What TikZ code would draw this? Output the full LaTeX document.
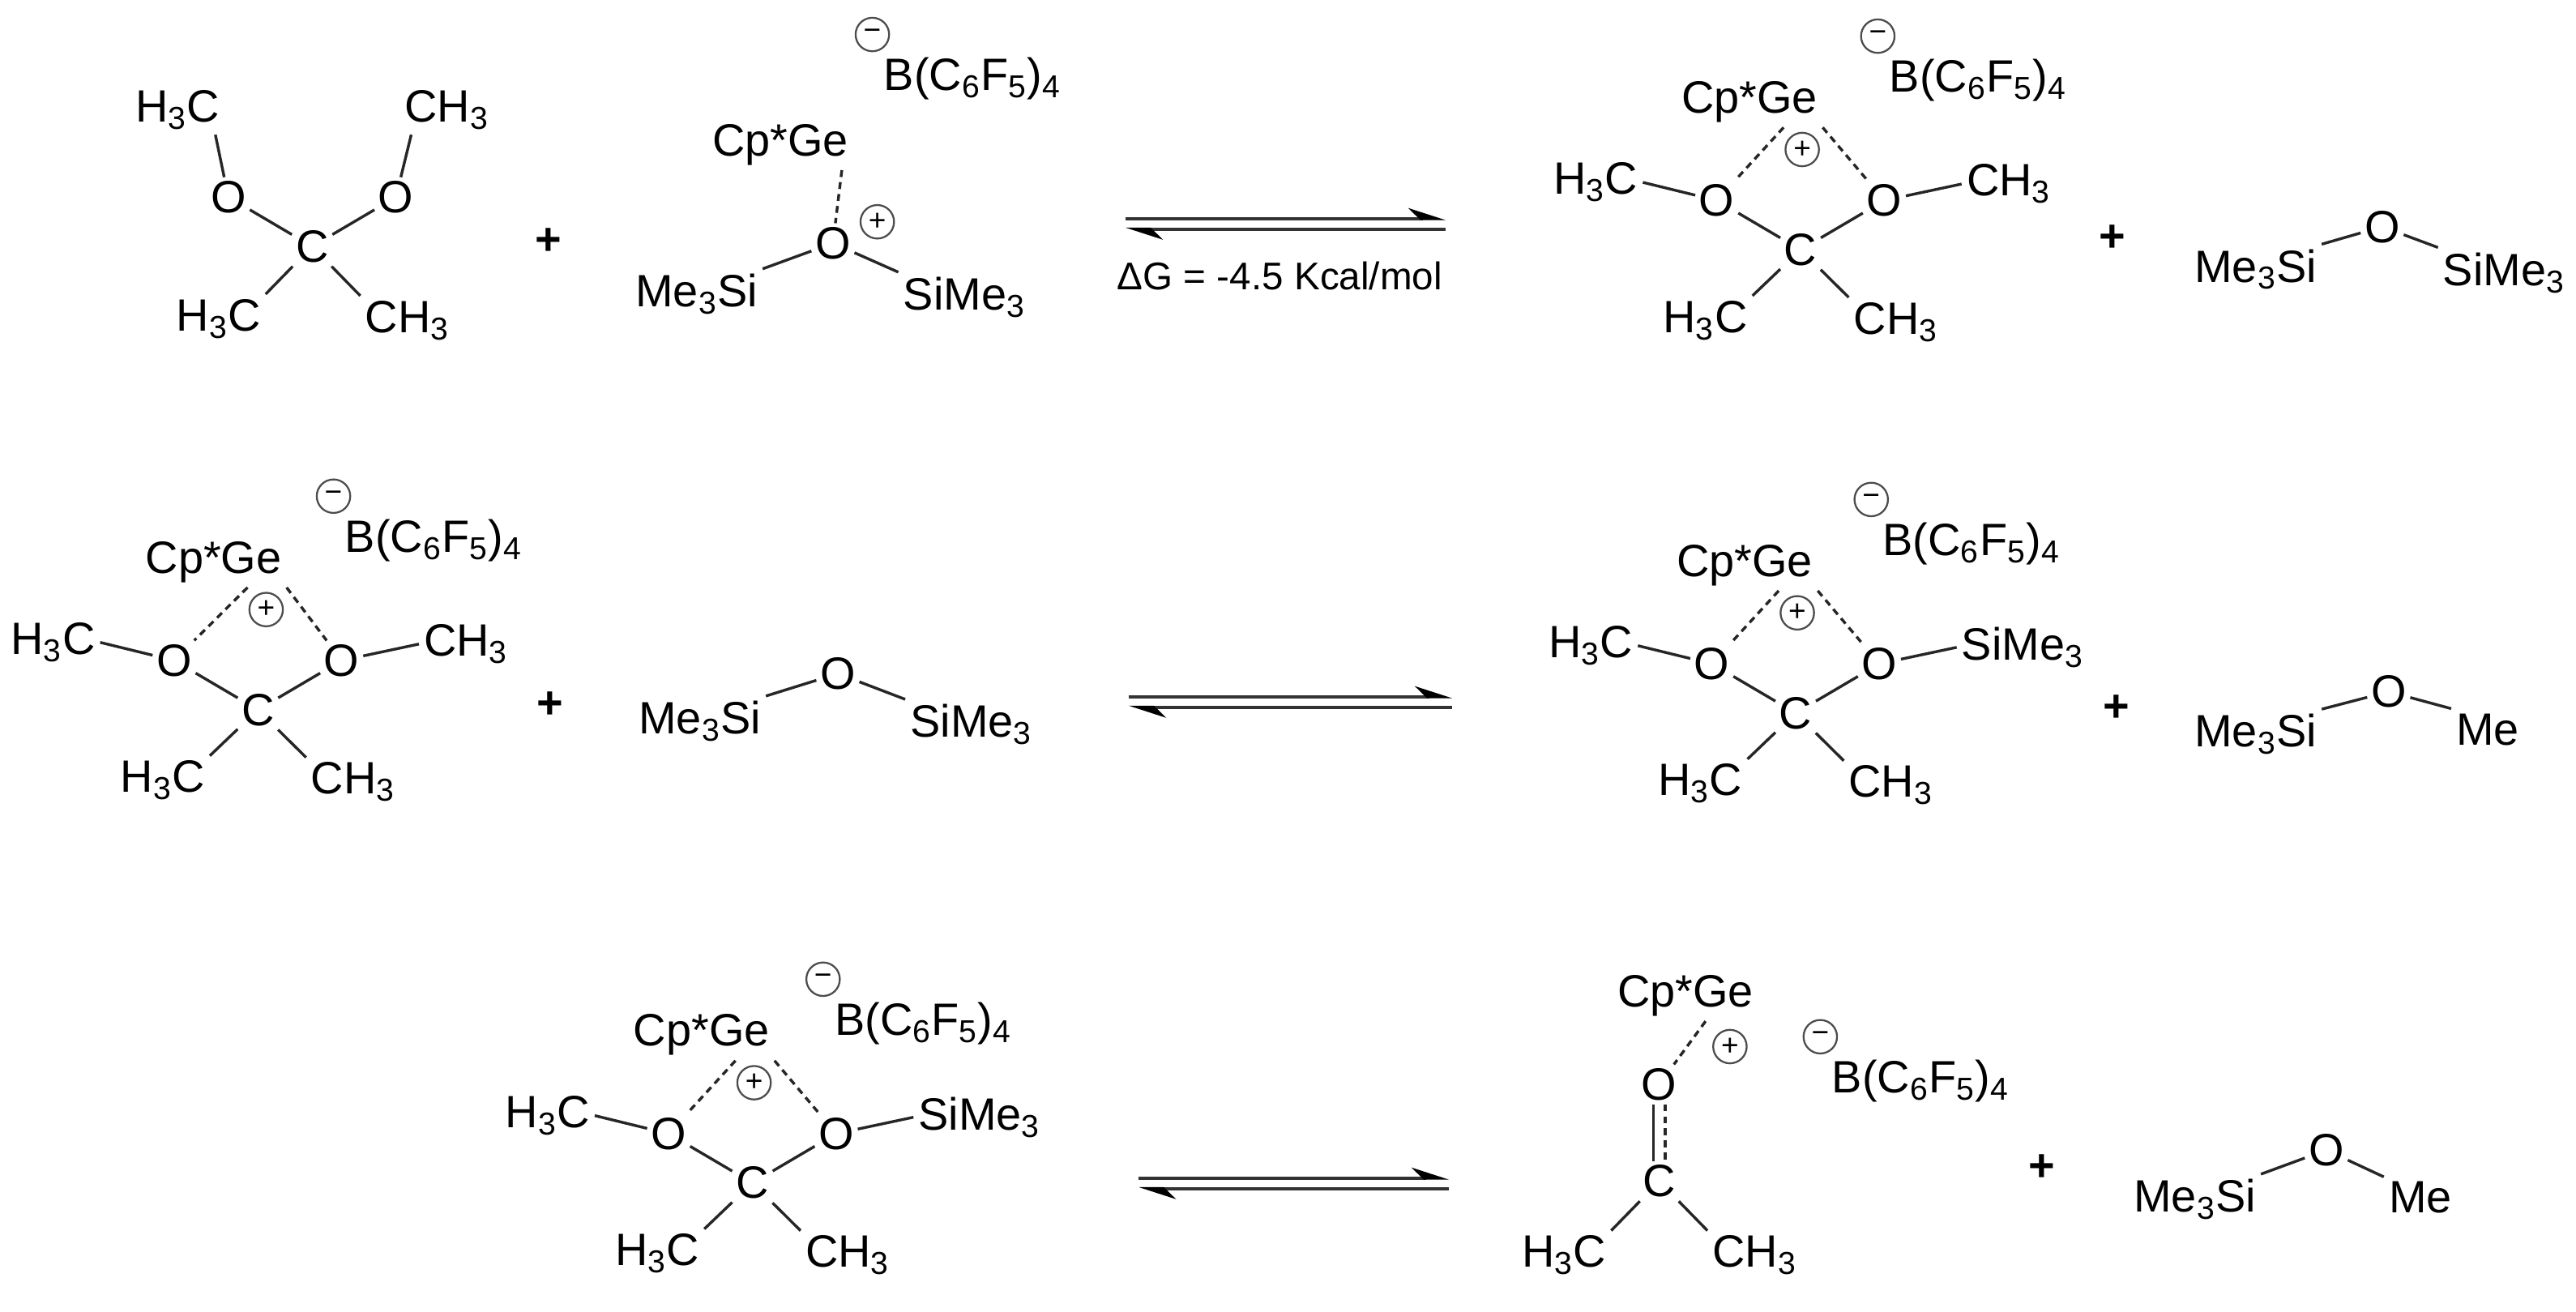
\documentclass[tikz,border=0pt]{standalone}
\usepackage{fontspec}
\setmainfont{Liberation Sans}
\usetikzlibrary{arrows.meta, calc, positioning}
\tikzset{
    atom/.style={inner sep=1.5pt, font=\fontsize{19.6}{23}\selectfont},
    group/.style={inner sep=2pt, font=\fontsize{19.6}{23}\selectfont},
    charge/.style={circle, draw=black!70, line width=0.8pt, inner sep=0pt, minimum size=14.5pt, font=\fontsize{13}{13}\selectfont},
    plusSign/.style={inner sep=0pt, font=\bfseries\fontsize{19.6}{23}\selectfont},
    bond/.style={line width=1.2pt, black!85},
    dashBond/.style={line width=1.2pt, black!85, dash pattern=on 3pt off 2.2pt},
    eqArrow/.style={line width=1.4pt, black!80, -{Stealth[harpoon, length=14pt, width=9pt, black]}},
}
\newcommand{\Hthree}{H\textsubscript{3}C}
\newcommand{\Cthree}{CH\textsubscript{3}}
\newcommand{\MeSi}{Me\textsubscript{3}Si}
\newcommand{\SiMe}{SiMe\textsubscript{3}}
% bridged cation, C at #3,#4
\newcommand{\drawCation}[5][-31]{
    \begin{scope}[shift={(#3,#4)}]
        \node[atom] (#2C) at (0,0) {C};
        \node[atom] (#2Ol) at (-51,-30) {O};
        \node[atom] (#2Or) at (51,-30) {O};
        \node[group] (#2Ge) at (#1,-90) {Cp*Ge};
        \node[charge] (#2Plus) at ($(#2Ge)+(32,29)$) {+};
        \node[group, anchor=east] (#2Ml) at (-96,-41) {\Hthree};
        \node[group, anchor=west] (#2Mr) at (98,-40) {#5};
        \node[group] (#2Dl) at (-58,43) {\Hthree};
        \node[group] (#2Dr) at (58,44) {\Cthree};
        \draw[bond] (#2Ol) -- (#2C);
        \draw[bond] (#2Or) -- (#2C);
        \draw[bond] (#2Ml.east) -- (#2Ol);
        \draw[bond] (#2Mr.west) -- (#2Or);
        \draw[bond] (#2C) -- (#2Dl.north east);
        \draw[bond] (#2C) -- (#2Dr.north west);
        \draw[dashBond] (#2Ge.-37) -- (#2Ol);
        \draw[dashBond] (#2Ge.south east) -- (#2Or);
    \end{scope}
}
% counter ion, B label centred at #2,#3
\newcommand{\drawAnion}[3]{
    \node[group] (#1B) at (#2,#3) {B(C\textsubscript{6}F\textsubscript{5})\textsubscript{4}};
    \node[charge] (#1Minus) at ($(#1B)+(-61,-27)$) {−};
}
% silyl ether: name, O, right label, left position, right position
\newcommand{\drawEther}[5]{
    \node[atom] (#1O) at (#2) {O};
    \node[group] (#1L) at (#4) {\MeSi};
    \node[group, anchor=west] (#1R) at (#5) {#3};
    \draw[bond] (#1O) -- (#1L.north east);
    \draw[bond] (#1O) -- (#1R.north west);
}
\newcommand{\drawEquil}[4]{
    \coordinate (#1a) at (#2,#4);
    \coordinate (#1b) at (#3,#4);
    \coordinate (#1c) at (#3,#4+6.5);
    \coordinate (#1d) at (#2,#4+6.5);
    \draw[eqArrow] (#1a) -- (#1b);
    \draw[eqArrow] (#1c) -- (#1d);
}

\begin{document}
\begin{tikzpicture}[x=0.025cm, y=-0.025cm]
    \useasboundingbox (0,0) rectangle (1568,798.5);

    % first row
    \node[atom] (aC) at (190,150) {C};
    \node[atom] (aOl) at (139,120) {O};
    \node[atom] (aOr) at (241,120) {O};
    \node[group] (aMl) at (108,67) {\Hthree};
    \node[group] (aMr) at (272,67) {\Cthree};
    \node[group] (aDl) at (133,194) {\Hthree};
    \node[group] (aDr) at (248,195) {\Cthree};
    \draw[bond] (aOl) -- (aC);
    \draw[bond] (aOr) -- (aC);
    \draw[bond] (aOl) -- ([xshift=-4pt]aMl.south east);
    \draw[bond] (aOr) -- ([xshift=5pt]aMr.south west);
    \draw[bond] (aC) -- (aDl.north east);
    \draw[bond] (aC) -- (aDr.north west);

    \node[plusSign] (plusA) at (334,147) {+};

    \node[atom] (bO) at (507,148) {O};
    \node[group] (bGe) at (475,88) {Cp*Ge};
    \node[charge] (bPlus) at (534,135) {+};
    \node[group] (bL) at (424,179) {\MeSi};
    \node[group] (bR) at (587,181) {\SiMe};
    \draw[bond] (bO) -- (bL.north east);
    \draw[bond] (bO) -- (bR.north west);
    \draw[dashBond] ([xshift=-5pt]bGe.south east) -- (bO);
    \drawAnion{b}{592}{48}

    \drawEquil{eqA}{685}{880}{133}
    \node[group, font=\fontsize{16.7}{20}\selectfont] (dG) at (779,168) {ΔG = -4.5 Kcal/mol};

    \drawCation{c}{1096}{152}{\Cthree}
    \drawAnion{c}{1204}{49}
    \node[plusSign] (plusB) at (1286,145) {+};
    \drawEther{d}{1450,138}{\SiMe}{1373,164}{1484,166}

    % second row
    \drawCation[-27]{e}{157}{432}{\Cthree}
    \drawAnion{e}{264}{329}
    \node[plusSign] (plusC) at (335,429) {+};
    \drawEther{f}{510,410}{\SiMe}{426,439}{551,441}
    \drawEquil{eqB}{687}{884}{424}
    \drawCation{g}{1093}{434}{\SiMe}
    \drawAnion{g}{1200}{331}
    \node[plusSign] (plusD) at (1288,431) {+};
    \drawEther{h}{1454,421}{Me}{1373,447}{1492,444}

    % third row
    \drawCation{i}{458}{720}{\SiMe}
    \drawAnion{i}{562}{623}
    \drawEquil{eqC}{693}{882}{717}

    \node[atom] (jC) at (1010,719) {C};
    \node[atom] (jO) at (1010,660) {O};
    \node[group] (jGe) at (1026,606) {Cp*Ge};
    \node[charge] (jPlus) at (1053,637) {+};
    \node[group] (jDl) at (952,764) {\Hthree};
    \node[group] (jDr) at (1068,764) {\Cthree};
    \draw[bond] ([xshift=-2.5pt]jO.south) -- ([xshift=-2.5pt]jC.north);
    \draw[dashBond] ([xshift=2.5pt]jO.south) -- ([xshift=2.5pt]jC.north);
    \draw[bond] (jC) -- (jDl.north east);
    \draw[bond] (jC) -- (jDr.north west);
    \draw[dashBond] (jGe.-52) -- (jO);
    \drawAnion{j}{1169}{658}
    \node[plusSign] (plusE) at (1243,711) {+};
    \drawEther{k}{1416,700}{Me}{1336,730}{1451,729}

\end{tikzpicture}
\end{document}
